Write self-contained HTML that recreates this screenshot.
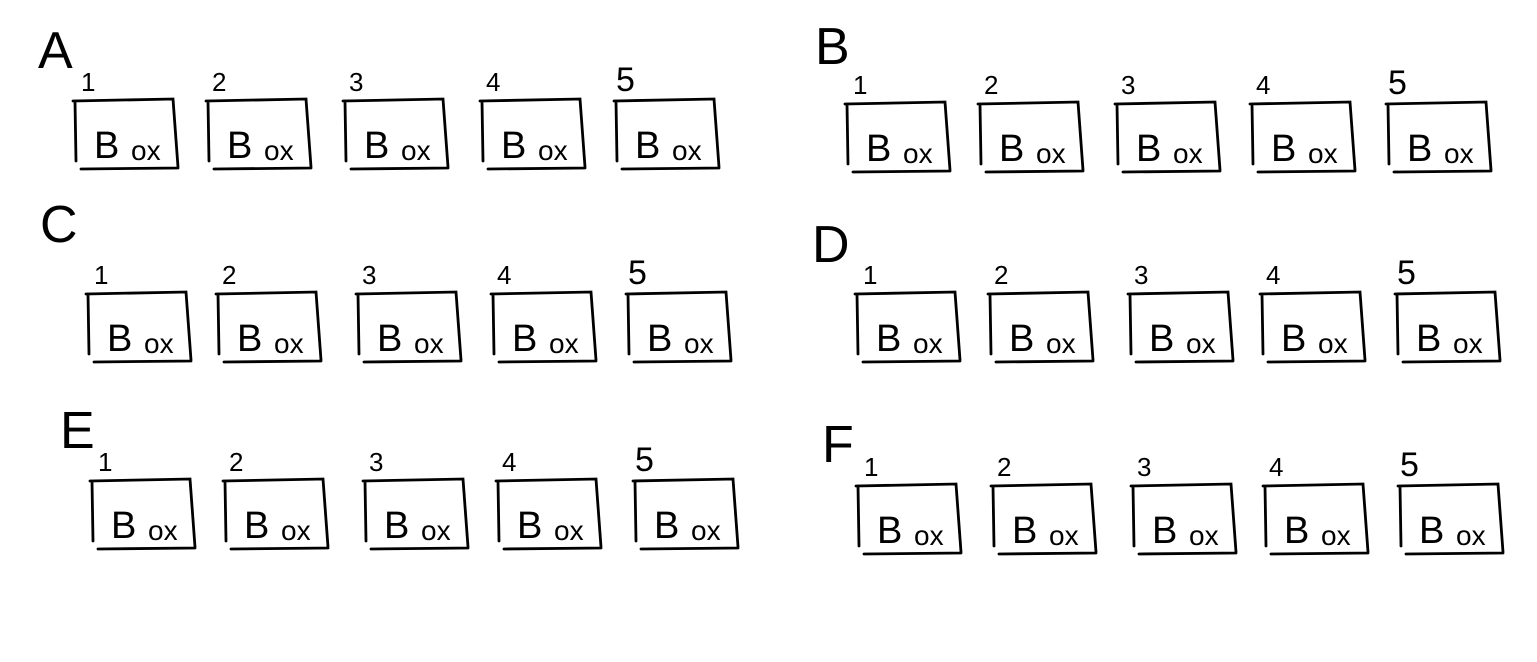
<!DOCTYPE html>
<html><head><meta charset="utf-8"><style>
html,body{margin:0;padding:0;background:#fff;}
svg{display:block;}
text{font-family:"Liberation Sans",sans-serif;fill:#000;}
</style></head><body>
<svg id="s" width="1537" height="662" viewBox="0 0 1537 662"></svg>
<script>
const groupLabels=["A","B","C","D","E","F"];
const groupLabelPos=[[38,68],[815,64],[40,242],[812,262],[60,448],[822,462]];
const boxLefts=[[75,208,345,482,616],[847,980,1117,1252,1388],[88,218,358,493,628],[857,990,1130,1262,1397],[92,225,365,498,635],[858,993,1133,1265,1400]];
const boxTops=[101,104,294,294,481,486];
const boxNumbers=["1","2","3","4","5"];
const NS="http://www.w3.org/2000/svg";
const s=document.getElementById('s');
function mk(t,a){const e=document.createElementNS(NS,t);for(const k in a)e.setAttribute(k,a[k]);s.appendChild(e);return e;}
groupLabels.forEach((g,gi)=>{
  const t=mk('text',{x:groupLabelPos[gi][0],y:groupLabelPos[gi][1],'font-size':52});
  t.textContent=g;
  
  
  boxLefts[gi].forEach((x,bi)=>{
    const y=boxTops[gi];
    const n=mk('text',{x:x+(bi===0?6:bi===4?0:4),y:y-10,'font-size':bi===4?34:26});
    n.textContent=boxNumbers[bi];
    
    
    const r=mk('path',{d:`M${x-2} ${y} L${x+98} ${y-2} L${x+103} ${y+66} M${x} ${y} L${x+1} ${y+60} M${x+6} ${y+68} L${x+103} ${y+67}`,fill:'none',stroke:'#000','stroke-width':2.8,'stroke-linecap':'round'});
    
    
    const bt=mk('text',{x:x+19,y:y+57,'font-size':38});
    bt.textContent='B';
    
    
    const ox=mk('text',{x:x+56,y:y+59,'font-size':28});
    ox.textContent='ox';
    
    
  });
});
</script>
</body></html>
